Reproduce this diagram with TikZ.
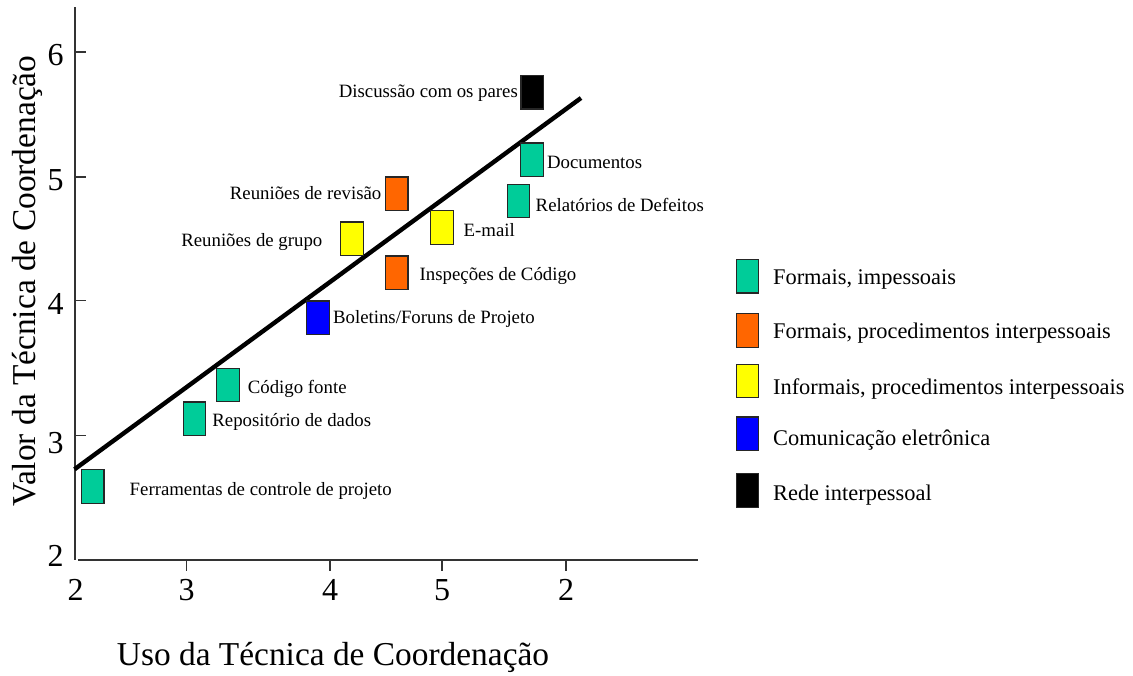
\documentclass[tikz,border=0pt]{standalone}
\usepackage{fontspec}
\setmainfont{Liberation Serif}
\usetikzlibrary{positioning}
\definecolor{formalteal}{HTML}{00CC99}
\definecolor{formalorange}{HTML}{FF6600}
\definecolor{informalyellow}{HTML}{FFFF00}
\definecolor{eletroblue}{HTML}{0000FF}
\definecolor{axisgray}{HTML}{333333}

\begin{document}
\begin{tikzpicture}[x=0.5pt, y=-0.5pt,
  techbox/.style={rectangle, minimum width=11.2pt, minimum height=16.8pt, inner sep=0pt, draw=black!85, line width=0.6pt},
  impessoal/.style={techbox, fill=formalteal},
  procformal/.style={techbox, fill=formalorange},
  procinformal/.style={techbox, fill=informalyellow},
  eletronica/.style={techbox, fill=eletroblue},
  redepessoal/.style={techbox, fill=black},
  techlabel/.style={font=\fontsize{9.4}{11}\selectfont, inner sep=0pt},
  keylabel/.style={font=\fontsize{11.2}{13}\selectfont, inner sep=0pt, anchor=base west},
  ticklabel/.style={font=\fontsize{16}{18}\selectfont, inner sep=0pt},
  axistitle/.style={font=\fontsize{16.7}{19}\selectfont, inner sep=0pt}]
\useasboundingbox (0,0) rectangle (1133,675);

% Axes
\coordinate (ytop) at (74.5,7);
\coordinate (origin) at (74.5,560);
\coordinate (xstart) at (78,560);
\coordinate (xend) at (698,560);
\draw[axisgray, line width=1pt] (ytop) -- (origin);
\draw[axisgray, line width=1pt] (xstart) -- (xend);

% Ticks and their numbers
\foreach \yy/\ly/\lab in {52/55/6, 177/180/5, 300.7/304/4, 435.7/443/3} {
  \draw[axisgray, line width=0.7pt] (74.5,\yy) -- (86,\yy);
  \node[ticklabel, anchor=east] at (64,\ly) {\lab};
}
\node[ticklabel, anchor=east] (ylab2) at (64,556) {2};
\foreach \xx/\lab in {186.7/3, 330/4, 442/5, 566/2} {
  \draw[axisgray, line width=0.7pt] (\xx,560) -- (\xx,571);
  \node[ticklabel] at (\xx,590) {\lab};
}
\node[ticklabel] (xlab2) at (75.5,590) {2};

% Axis titles
\node[axistitle, rotate=90] (ytitle) at (27,281) {Valor da Técnica de Coordenação};
\node[axistitle, anchor=base] (xtitle) at (333,665) {Uso da Técnica de Coordenação};

% Trend line
\coordinate (fitstart) at (74.5,469.3);
\coordinate (fitend) at (581,98);
\draw[line width=2.2pt] (fitstart) -- (fitend);

% Techniques
\node[impessoal] (ferramentas) at (92.8,486.3) {};
\node[techlabel, anchor=base west] (ferramentaslbl) at (129.3,495) {Ferramentas de controle de projeto};

\node[impessoal] (repositorio) at (194.5,418.8) {};
\node[techlabel, anchor=base west] (repositoriolbl) at (212,426.7) {Repositório de dados};

\node[impessoal] (codigo) at (228,385) {};
\node[techlabel, anchor=base west] (codigolbl) at (247.5,393.3) {Código fonte};

\node[eletronica] (boletins) at (318,317.7) {};
\node[techlabel, anchor=base west] (boletinslbl) at (332.7,323.3) {Boletins/Foruns de Projeto};

\node[procinformal] (grupo) at (352,238.8) {};
\node[techlabel, anchor=base east] (grupolbl) at (322.7,246.7) {Reuniões de grupo};

\node[procformal] (revisao) at (396.8,193.7) {};
\node[techlabel, anchor=base east] (revisaolbl) at (381.7,199.5) {Reuniões de revisão};

\node[procformal] (inspecoes) at (396.8,272.7) {};
\node[techlabel, anchor=base west] (inspecoeslbl) at (419.3,280.7) {Inspeções de Código};

\node[procinformal] (email) at (442,227.5) {};
\node[techlabel, anchor=base west] (emaillbl) at (463.3,236) {E-mail};

\node[impessoal] (relatorios) at (518.5,201) {};
\node[techlabel, anchor=base west] (relatorioslbl) at (535.3,211.7) {Relatórios de Defeitos};

\node[impessoal] (documentos) at (532,159.7) {};
\node[techlabel, anchor=base west] (documentoslbl) at (546.7,168.3) {Documentos};

\node[redepessoal] (discussao) at (532.2,92.2) {};
\node[techlabel, anchor=base east] (discussaolbl) at (518.3,97.7) {Discussão com os pares};

% Legend
\node[impessoal] (key1) at (747.3,276.2) {};
\node[keylabel] (key1lbl) at (772.7,284) {Formais, impessoais};
\node[procformal] (key2) at (747.3,330.3) {};
\node[keylabel] (key2lbl) at (772.7,338.3) {Formais, procedimentos interpessoais};
\node[procinformal] (key3) at (747.3,381) {};
\node[keylabel] (key3lbl) at (772.7,394) {Informais, procedimentos interpessoais};
\node[eletronica] (key4) at (747.3,433.8) {};
\node[keylabel] (key4lbl) at (772.7,445) {Comunicação eletrônica};
\node[redepessoal] (key5) at (747.3,490.3) {};
\node[keylabel] (key5lbl) at (772.7,500) {Rede interpessoal};
\end{tikzpicture}
\end{document}
